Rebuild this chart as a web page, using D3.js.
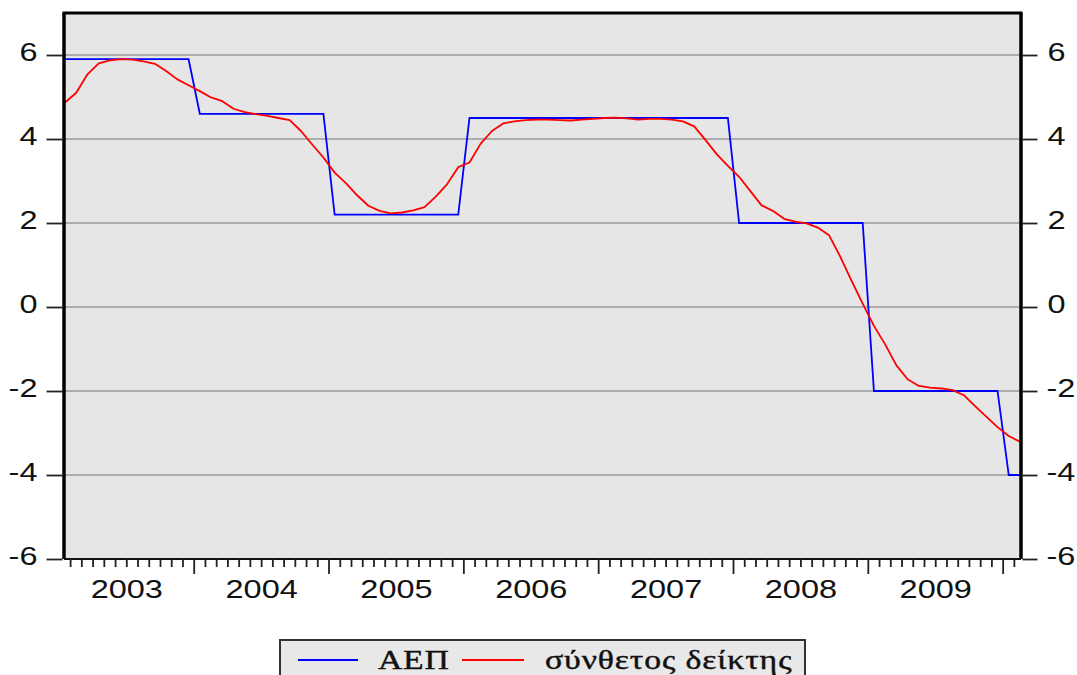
<!DOCTYPE html>
<html>
<head>
<meta charset="utf-8">
<script src="https://cdn.jsdelivr.net/npm/d3@7"></script>
<style>
  html, body { margin: 0; padding: 0; background: #ffffff; }
  svg { display: block; }
</style>
</head>
<body>
<svg id="chart" width="1077" height="675"></svg>
<script>
// ---- DATA ----
const startYear = 2003;             // first observation: 2003M01
const nObs = 86;                    // 2003M01 .. 2010M02 (monthly)
const gdpYears  = [2003, 2004, 2005, 2006, 2007, 2008, 2009, 2010];
const gdpValues = [5.9, 4.6, 2.2, 4.5, 4.5, 2.0, -2.0, -4.0];   // ΑΕΠ (annual, shown monthly as steps)
const compositeValues = [            // σύνθετος δείκτης (monthly)
  4.87, 5.10, 5.54, 5.80, 5.87, 5.90, 5.89, 5.85, 5.79, 5.62, 5.42, 5.28,   // 2003
  5.14, 4.99, 4.90, 4.72, 4.64, 4.59, 4.55, 4.50, 4.45, 4.19, 3.87, 3.56,   // 2004
  3.20, 2.95, 2.66, 2.41, 2.29, 2.23, 2.25, 2.30, 2.38, 2.63, 2.92, 3.33,   // 2005
  3.44, 3.89, 4.19, 4.37, 4.42, 4.45, 4.46, 4.46, 4.45, 4.44, 4.46, 4.48,   // 2006
  4.50, 4.51, 4.49, 4.46, 4.48, 4.48, 4.46, 4.42, 4.30, 3.98, 3.64, 3.36,   // 2007
  3.10, 2.76, 2.42, 2.29, 2.10, 2.03, 1.99, 1.89, 1.71, 1.20, 0.63, 0.08,   // 2008
  -0.45, -0.89, -1.39, -1.72, -1.88, -1.92, -1.94, -1.98, -2.10, -2.36, -2.61, -2.86, // 2009
  -3.07, -3.21                                                              // 2010
];
const yTicks = [-6, -4, -2, 0, 2, 4, 6];
const gridValues = [-4, -2, 0, 2, 4, 6];
const yearLabels = ["2003", "2004", "2005", "2006", "2007", "2008", "2009"];
const seriesNames = ["ΑΕΠ", "σύνθετος δείκτης"];
const seriesColors = ["#0000ff", "#ff0000"];

// ---- LAYOUT ----
const svg = d3.select("#chart");
const plot = { left: 64, right: 1021, top: 13, bottom: 559 };

const x = d3.scaleLinear().domain([0, nObs - 1]).range([plot.left + 1, plot.right - 1]);
const y = d3.scaleLinear().domain([-6, 7]).range([plot.bottom, plot.top]);

const stretch = 1.25;
const fmt = d => String(d);   // plain hyphen-minus as in the reference

// plot background
svg.append("rect")
  .attr("x", plot.left).attr("y", plot.top)
  .attr("width", plot.right - plot.left).attr("height", plot.bottom - plot.top)
  .attr("fill", "#e6e6e6");

// gridlines
svg.append("g").selectAll("line").data(gridValues).join("line")
  .attr("x1", plot.left).attr("x2", plot.right)
  .attr("y1", d => y(d)).attr("y2", d => y(d))
  .attr("stroke", "#9a9a9a").attr("stroke-width", 1.6);

// series
const gdpMonthly = d3.range(nObs).map(i => {
  const yr = startYear + Math.floor(i / 12);
  return gdpValues[gdpYears.indexOf(yr)];
});
const line = d3.line().x((d, i) => x(i)).y(d => y(d));

svg.append("clipPath").attr("id", "clip").append("rect")
  .attr("x", plot.left).attr("y", plot.top)
  .attr("width", plot.right - plot.left).attr("height", plot.bottom - plot.top);

svg.append("path").datum(gdpMonthly)
  .attr("d", line).attr("fill", "none")
  .attr("stroke", seriesColors[0]).attr("stroke-width", 1.8)
  .attr("clip-path", "url(#clip)");
svg.append("path").datum(compositeValues)
  .attr("d", line).attr("fill", "none")
  .attr("stroke", seriesColors[1]).attr("stroke-width", 1.8)
  .attr("stroke-linejoin", "round")
  .attr("clip-path", "url(#clip)");

// frame
svg.append("line").attr("x1", plot.left - 1.5).attr("x2", plot.right + 1.5)
  .attr("y1", plot.top).attr("y2", plot.top).attr("stroke", "#000").attr("stroke-width", 3);
svg.append("line").attr("x1", plot.left).attr("x2", plot.left)
  .attr("y1", plot.top).attr("y2", plot.bottom).attr("stroke", "#000").attr("stroke-width", 3.5);
svg.append("line").attr("x1", plot.right).attr("x2", plot.right)
  .attr("y1", plot.top).attr("y2", plot.bottom).attr("stroke", "#000").attr("stroke-width", 3.5);
svg.append("line").attr("x1", plot.left).attr("x2", plot.right)
  .attr("y1", plot.bottom).attr("y2", plot.bottom).attr("stroke", "#111").attr("stroke-width", 2);

// y axes (left and right)
const axL = svg.append("g").attr("transform", `translate(${plot.left - 1.5},0)`)
  .call(d3.axisLeft(y).tickValues(yTicks).tickSize(16).tickFormat(fmt));
const axR = svg.append("g").attr("transform", `translate(${plot.right + 1.5},0)`)
  .call(d3.axisRight(y).tickValues(yTicks).tickSize(15).tickFormat(fmt));
[axL, axR].forEach(ax => {
  ax.select(".domain").remove();
  ax.selectAll(".tick line").attr("stroke", "#222").attr("stroke-width", 1.8);
  ax.selectAll(".tick text").attr("fill", "#111")
    .attr("x", null).attr("dy", null)
    .attr("dominant-baseline", "central")
    .style("font-family", "'Liberation Sans', Arial, sans-serif")
    .style("font-size", "26px");
});
axL.selectAll(".tick text")
  .attr("text-anchor", "end")
  .attr("transform", `translate(-25,-4) scale(${stretch},1)`);
axR.selectAll(".tick text")
  .attr("text-anchor", "start")
  .attr("transform", d => `translate(${d < 0 ? 24 : 25},-4) scale(${stretch},1)`);

// x axis: monthly minor ticks at period boundaries, major at year boundaries
const boundaries = d3.range(0, nObs - 1).map(i => i + 0.5);
const xAxisG = svg.append("g").attr("transform", `translate(0,${plot.bottom})`);
xAxisG.selectAll("line").data(boundaries).join("line")
  .attr("x1", d => x(d)).attr("x2", d => x(d))
  .attr("y1", 0)
  .attr("y2", d => ((d + 0.5) % 12 === 0 ? 15 : 8))
  .attr("stroke", "#222").attr("stroke-width", 1.8);
xAxisG.selectAll("text").data(yearLabels).join("text")
  .attr("transform", (d, k) => `translate(${x(12 * k + 5.5)},39) scale(${stretch},1)`)
  .attr("text-anchor", "middle")
  .attr("fill", "#111")
  .style("font-family", "'Liberation Sans', Arial, sans-serif")
  .style("font-size", "26px")
  .text(d => d);

// legend
const lg = svg.append("g");
lg.append("rect").attr("x", 280).attr("y", 640).attr("width", 525).attr("height", 50)
  .attr("fill", "#e8e8e8").attr("stroke", "#333").attr("stroke-width", 2);
const legendItems = [
  { x1: 298, x2: 358, tx: 378, ls: 0.6 },
  { x1: 462, x2: 524, tx: 545, ls: 0.7 }
];
legendItems.forEach((it, k) => {
  lg.append("line").attr("x1", it.x1).attr("x2", it.x2).attr("y1", 660).attr("y2", 660)
    .attr("stroke", seriesColors[k]).attr("stroke-width", 1.8);
  lg.append("text")
    .attr("transform", `translate(${it.tx},669) scale(${stretch},1)`)
    .attr("fill", "#111")
    .attr("stroke", "#111").attr("stroke-width", 0.4)
    .style("font-family", "'Liberation Serif', 'Times New Roman', serif")
    .style("font-size", "27px")
    .style("letter-spacing", it.ls + "px")
    .text(seriesNames[k]);
});
</script>
</body>
</html>
